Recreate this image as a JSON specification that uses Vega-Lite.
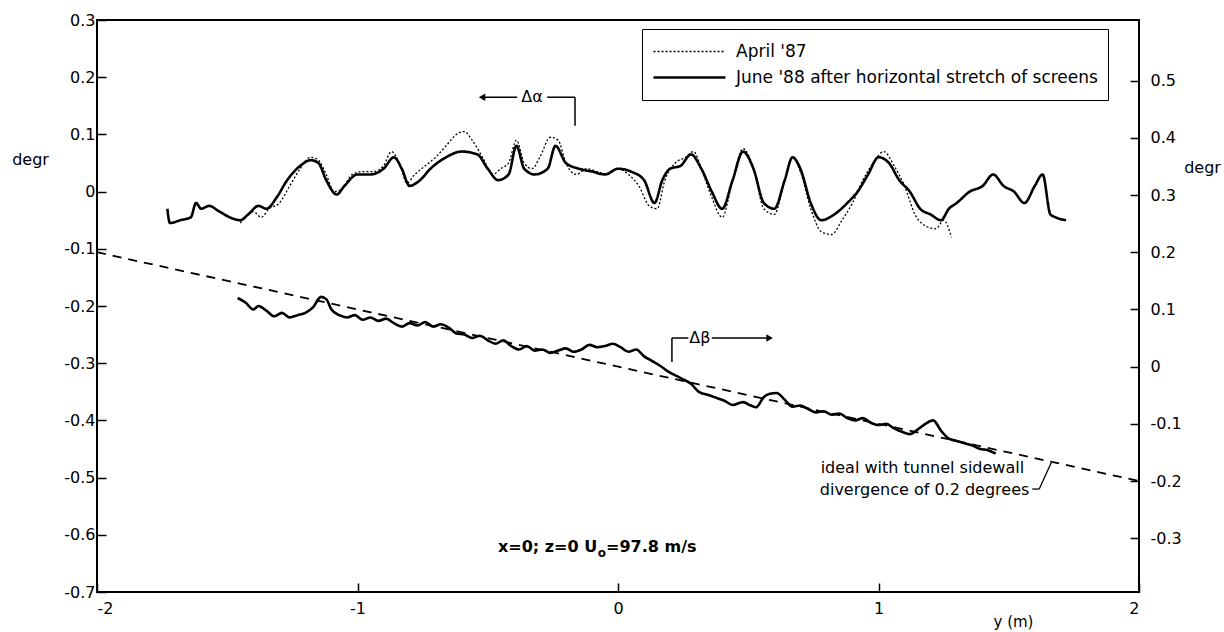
{
  "$schema": "https://vega.github.io/schema/vega-lite/v6.json",
  "width": 1042,
  "height": 572,
  "autosize": {"type": "none"},
  "padding": {"left": 97, "top": 20, "right": 85, "bottom": 40},
  "background": "white",
  "config": {
    "font": "DejaVu Sans",
    "view": {"stroke": "black", "strokeWidth": 2},
    "axis": {"labelColor": "black", "labelFontSize": 16, "tickColor": "black", "tickWidth": 1.5, "domain": false, "grid": false, "titleColor": "black", "titleFontWeight": "normal", "titleFontSize": 16},
    "legend": {"labelFontSize": 17, "labelColor": "black", "labelLimit": 0}
  },
  "datasets": {
    "alpha": [
      {"series": "A", "x": -1.45, "y": -0.055}, {"series": "A", "x": -1.42, "y": -0.04}, {"series": "A", "x": -1.4, "y": -0.035}, {"series": "A", "x": -1.37, "y": -0.045}, {"series": "A", "x": -1.34, "y": -0.03}, {"series": "A", "x": -1.3, "y": -0.02}, {"series": "A", "x": -1.26, "y": 0.01}, {"series": "A", "x": -1.22, "y": 0.04}, {"series": "A", "x": -1.18, "y": 0.06}, {"series": "A", "x": -1.15, "y": 0.055}, {"series": "A", "x": -1.12, "y": 0.03}, {"series": "A", "x": -1.09, "y": 0.0}, {"series": "A", "x": -1.06, "y": 0.005}, {"series": "A", "x": -1.02, "y": 0.03}, {"series": "A", "x": -0.98, "y": 0.035}, {"series": "A", "x": -0.94, "y": 0.035}, {"series": "A", "x": -0.9, "y": 0.045}, {"series": "A", "x": -0.87, "y": 0.07}, {"series": "A", "x": -0.84, "y": 0.05}, {"series": "A", "x": -0.81, "y": 0.015}, {"series": "A", "x": -0.78, "y": 0.03}, {"series": "A", "x": -0.74, "y": 0.045}, {"series": "A", "x": -0.7, "y": 0.06}, {"series": "A", "x": -0.66, "y": 0.08}, {"series": "A", "x": -0.62, "y": 0.1}, {"series": "A", "x": -0.59, "y": 0.105}, {"series": "A", "x": -0.56, "y": 0.09}, {"series": "A", "x": -0.52, "y": 0.06}, {"series": "A", "x": -0.48, "y": 0.03}, {"series": "A", "x": -0.45, "y": 0.04}, {"series": "A", "x": -0.42, "y": 0.05}, {"series": "A", "x": -0.39, "y": 0.09}, {"series": "A", "x": -0.36, "y": 0.05}, {"series": "A", "x": -0.33, "y": 0.04}, {"series": "A", "x": -0.3, "y": 0.06}, {"series": "A", "x": -0.26, "y": 0.095}, {"series": "A", "x": -0.23, "y": 0.09}, {"series": "A", "x": -0.2, "y": 0.05}, {"series": "A", "x": -0.16, "y": 0.03}, {"series": "A", "x": -0.12, "y": 0.04}, {"series": "A", "x": -0.08, "y": 0.035}, {"series": "A", "x": -0.04, "y": 0.03}, {"series": "A", "x": 0.0, "y": 0.04}, {"series": "A", "x": 0.04, "y": 0.03}, {"series": "A", "x": 0.08, "y": 0.01}, {"series": "A", "x": 0.12, "y": -0.025}, {"series": "A", "x": 0.15, "y": -0.03}, {"series": "A", "x": 0.18, "y": 0.02}, {"series": "A", "x": 0.22, "y": 0.05}, {"series": "A", "x": 0.26, "y": 0.06}, {"series": "A", "x": 0.29, "y": 0.07}, {"series": "A", "x": 0.32, "y": 0.04}, {"series": "A", "x": 0.36, "y": -0.01}, {"series": "A", "x": 0.4, "y": -0.045}, {"series": "A", "x": 0.44, "y": 0.02}, {"series": "A", "x": 0.48, "y": 0.075}, {"series": "A", "x": 0.52, "y": 0.04}, {"series": "A", "x": 0.56, "y": -0.03}, {"series": "A", "x": 0.6, "y": -0.04}, {"series": "A", "x": 0.64, "y": 0.02}, {"series": "A", "x": 0.67, "y": 0.06}, {"series": "A", "x": 0.7, "y": 0.035}, {"series": "A", "x": 0.74, "y": -0.03}, {"series": "A", "x": 0.78, "y": -0.07}, {"series": "A", "x": 0.82, "y": -0.075}, {"series": "A", "x": 0.86, "y": -0.05}, {"series": "A", "x": 0.9, "y": -0.02}, {"series": "A", "x": 0.94, "y": 0.02}, {"series": "A", "x": 0.98, "y": 0.05}, {"series": "A", "x": 1.02, "y": 0.07}, {"series": "A", "x": 1.06, "y": 0.045}, {"series": "A", "x": 1.1, "y": 0.01}, {"series": "A", "x": 1.14, "y": -0.04}, {"series": "A", "x": 1.18, "y": -0.06}, {"series": "A", "x": 1.22, "y": -0.065}, {"series": "A", "x": 1.25, "y": -0.05}, {"series": "A", "x": 1.28, "y": -0.08},
      {"series": "J", "x": -1.73, "y": -0.03}, {"series": "J", "x": -1.72, "y": -0.055}, {"series": "J", "x": -1.68, "y": -0.05}, {"series": "J", "x": -1.64, "y": -0.045}, {"series": "J", "x": -1.62, "y": -0.02}, {"series": "J", "x": -1.6, "y": -0.03}, {"series": "J", "x": -1.57, "y": -0.025}, {"series": "J", "x": -1.53, "y": -0.035}, {"series": "J", "x": -1.49, "y": -0.045}, {"series": "J", "x": -1.45, "y": -0.05}, {"series": "J", "x": -1.42, "y": -0.04}, {"series": "J", "x": -1.38, "y": -0.025}, {"series": "J", "x": -1.35, "y": -0.03}, {"series": "J", "x": -1.31, "y": -0.01}, {"series": "J", "x": -1.27, "y": 0.02}, {"series": "J", "x": -1.22, "y": 0.045}, {"series": "J", "x": -1.18, "y": 0.055}, {"series": "J", "x": -1.15, "y": 0.05}, {"series": "J", "x": -1.12, "y": 0.02}, {"series": "J", "x": -1.08, "y": -0.005}, {"series": "J", "x": -1.05, "y": 0.01}, {"series": "J", "x": -1.0, "y": 0.03}, {"series": "J", "x": -0.95, "y": 0.03}, {"series": "J", "x": -0.9, "y": 0.04}, {"series": "J", "x": -0.86, "y": 0.06}, {"series": "J", "x": -0.83, "y": 0.04}, {"series": "J", "x": -0.8, "y": 0.01}, {"series": "J", "x": -0.76, "y": 0.02}, {"series": "J", "x": -0.72, "y": 0.04}, {"series": "J", "x": -0.66, "y": 0.06}, {"series": "J", "x": -0.6, "y": 0.07}, {"series": "J", "x": -0.54, "y": 0.065}, {"series": "J", "x": -0.5, "y": 0.04}, {"series": "J", "x": -0.46, "y": 0.02}, {"series": "J", "x": -0.42, "y": 0.03}, {"series": "J", "x": -0.39, "y": 0.08}, {"series": "J", "x": -0.36, "y": 0.04}, {"series": "J", "x": -0.32, "y": 0.03}, {"series": "J", "x": -0.27, "y": 0.04}, {"series": "J", "x": -0.24, "y": 0.08}, {"series": "J", "x": -0.2, "y": 0.05}, {"series": "J", "x": -0.15, "y": 0.04}, {"series": "J", "x": -0.1, "y": 0.035}, {"series": "J", "x": -0.05, "y": 0.03}, {"series": "J", "x": 0.0, "y": 0.04}, {"series": "J", "x": 0.05, "y": 0.035}, {"series": "J", "x": 0.1, "y": 0.02}, {"series": "J", "x": 0.14, "y": -0.02}, {"series": "J", "x": 0.17, "y": 0.02}, {"series": "J", "x": 0.2, "y": 0.04}, {"series": "J", "x": 0.24, "y": 0.045}, {"series": "J", "x": 0.28, "y": 0.065}, {"series": "J", "x": 0.32, "y": 0.04}, {"series": "J", "x": 0.36, "y": 0.0}, {"series": "J", "x": 0.4, "y": -0.03}, {"series": "J", "x": 0.44, "y": 0.02}, {"series": "J", "x": 0.48, "y": 0.07}, {"series": "J", "x": 0.52, "y": 0.04}, {"series": "J", "x": 0.56, "y": -0.02}, {"series": "J", "x": 0.6, "y": -0.03}, {"series": "J", "x": 0.64, "y": 0.02}, {"series": "J", "x": 0.67, "y": 0.06}, {"series": "J", "x": 0.7, "y": 0.04}, {"series": "J", "x": 0.74, "y": -0.02}, {"series": "J", "x": 0.78, "y": -0.05}, {"series": "J", "x": 0.83, "y": -0.04}, {"series": "J", "x": 0.88, "y": -0.02}, {"series": "J", "x": 0.92, "y": 0.0}, {"series": "J", "x": 0.96, "y": 0.03}, {"series": "J", "x": 1.0, "y": 0.06}, {"series": "J", "x": 1.04, "y": 0.05}, {"series": "J", "x": 1.08, "y": 0.02}, {"series": "J", "x": 1.12, "y": 0.0}, {"series": "J", "x": 1.16, "y": -0.03}, {"series": "J", "x": 1.2, "y": -0.04}, {"series": "J", "x": 1.24, "y": -0.05}, {"series": "J", "x": 1.27, "y": -0.03}, {"series": "J", "x": 1.3, "y": -0.02}, {"series": "J", "x": 1.35, "y": 0.0}, {"series": "J", "x": 1.4, "y": 0.01}, {"series": "J", "x": 1.44, "y": 0.03}, {"series": "J", "x": 1.48, "y": 0.01}, {"series": "J", "x": 1.52, "y": 0.0}, {"series": "J", "x": 1.56, "y": -0.02}, {"series": "J", "x": 1.6, "y": 0.01}, {"series": "J", "x": 1.63, "y": 0.03}, {"series": "J", "x": 1.66, "y": -0.04}, {"series": "J", "x": 1.68, "y": -0.045}, {"series": "J", "x": 1.72, "y": -0.05}
    ],
    "beta": [
      {"x": -1.46, "r": 0.12}, {"x": -1.43, "r": 0.112}, {"x": -1.4, "r": 0.1}, {"x": -1.38, "r": 0.106}, {"x": -1.35, "r": 0.098}, {"x": -1.32, "r": 0.088}, {"x": -1.29, "r": 0.094}, {"x": -1.26, "r": 0.086}, {"x": -1.23, "r": 0.09}, {"x": -1.2, "r": 0.094}, {"x": -1.17, "r": 0.104}, {"x": -1.14, "r": 0.122}, {"x": -1.12, "r": 0.118}, {"x": -1.1, "r": 0.1}, {"x": -1.07, "r": 0.09}, {"x": -1.04, "r": 0.086}, {"x": -1.01, "r": 0.09}, {"x": -0.98, "r": 0.082}, {"x": -0.95, "r": 0.086}, {"x": -0.92, "r": 0.08}, {"x": -0.89, "r": 0.084}, {"x": -0.86, "r": 0.076}, {"x": -0.83, "r": 0.07}, {"x": -0.8, "r": 0.076}, {"x": -0.77, "r": 0.072}, {"x": -0.74, "r": 0.078}, {"x": -0.71, "r": 0.07}, {"x": -0.68, "r": 0.074}, {"x": -0.65, "r": 0.068}, {"x": -0.62, "r": 0.058}, {"x": -0.59, "r": 0.056}, {"x": -0.56, "r": 0.05}, {"x": -0.53, "r": 0.054}, {"x": -0.5, "r": 0.046}, {"x": -0.47, "r": 0.04}, {"x": -0.44, "r": 0.046}, {"x": -0.41, "r": 0.036}, {"x": -0.38, "r": 0.03}, {"x": -0.35, "r": 0.036}, {"x": -0.32, "r": 0.028}, {"x": -0.29, "r": 0.03}, {"x": -0.26, "r": 0.024}, {"x": -0.23, "r": 0.028}, {"x": -0.2, "r": 0.032}, {"x": -0.17, "r": 0.026}, {"x": -0.14, "r": 0.03}, {"x": -0.11, "r": 0.038}, {"x": -0.08, "r": 0.034}, {"x": -0.05, "r": 0.036}, {"x": -0.02, "r": 0.04}, {"x": 0.01, "r": 0.034}, {"x": 0.04, "r": 0.026}, {"x": 0.07, "r": 0.03}, {"x": 0.1, "r": 0.018}, {"x": 0.13, "r": 0.01}, {"x": 0.16, "r": 0.002}, {"x": 0.19, "r": -0.008}, {"x": 0.24, "r": -0.02}, {"x": 0.28, "r": -0.03}, {"x": 0.31, "r": -0.044}, {"x": 0.35, "r": -0.05}, {"x": 0.38, "r": -0.055}, {"x": 0.41, "r": -0.06}, {"x": 0.44, "r": -0.067}, {"x": 0.48, "r": -0.062}, {"x": 0.51, "r": -0.068}, {"x": 0.53, "r": -0.071}, {"x": 0.56, "r": -0.053}, {"x": 0.58, "r": -0.048}, {"x": 0.61, "r": -0.046}, {"x": 0.64, "r": -0.058}, {"x": 0.67, "r": -0.07}, {"x": 0.7, "r": -0.068}, {"x": 0.73, "r": -0.074}, {"x": 0.76, "r": -0.08}, {"x": 0.79, "r": -0.078}, {"x": 0.82, "r": -0.084}, {"x": 0.85, "r": -0.082}, {"x": 0.88, "r": -0.09}, {"x": 0.91, "r": -0.094}, {"x": 0.94, "r": -0.09}, {"x": 0.97, "r": -0.098}, {"x": 1.0, "r": -0.102}, {"x": 1.03, "r": -0.1}, {"x": 1.06, "r": -0.108}, {"x": 1.09, "r": -0.114}, {"x": 1.12, "r": -0.118}, {"x": 1.15, "r": -0.11}, {"x": 1.18, "r": -0.1}, {"x": 1.21, "r": -0.094}, {"x": 1.24, "r": -0.112}, {"x": 1.27, "r": -0.126}, {"x": 1.3, "r": -0.13}, {"x": 1.33, "r": -0.134}, {"x": 1.36, "r": -0.138}, {"x": 1.39, "r": -0.144}, {"x": 1.42, "r": -0.146}, {"x": 1.45, "r": -0.152}
    ],
    "ideal": [{"x": -2, "r": 0.2}, {"x": 2, "r": -0.2}],
    "alphaArrow": [
      {"x": -0.515, "x2": -0.387, "y": 0.165, "y2": 0.165},
      {"x": -0.272, "x2": -0.165, "y": 0.165, "y2": 0.165},
      {"x": -0.165, "x2": -0.165, "y": 0.165, "y2": 0.115}
    ],
    "betaArrow": [
      {"x": 0.207, "x2": 0.207, "r": 0.008, "r2": 0.05},
      {"x": 0.207, "x2": 0.27, "r": 0.05, "r2": 0.05},
      {"x": 0.36, "x2": 0.575, "r": 0.05, "r2": 0.05}
    ],
    "leader": [
      {"x": 1.59, "x2": 1.617, "r": -0.214, "r2": -0.214},
      {"x": 1.617, "x2": 1.663, "r": -0.214, "r2": -0.168}
    ],
    "idealText": [
      {"x": 1.559, "r": -0.177, "label": "ideal with tunnel sidewall"},
      {"x": 1.579, "r": -0.216, "label": "divergence of 0.2 degrees"}
    ]
  },
  "layer": [
    {
      "layer": [
        {
          "data": {"name": "alpha"},
          "mark": {"type": "line", "color": "black", "strokeJoin": "round", "interpolate": "monotone"},
          "encoding": {
            "x": {"field": "x", "type": "quantitative", "scale": {"domain": [-2, 2], "nice": false, "zero": false},
              "axis": {"values": [-2, -1, 0, 1, 2], "labelExpr": "datum.value < 0 ? '-' + format(abs(datum.value), 'd') : format(datum.value, 'd')", "tickSize": -9, "labelPadding": 17, "title": "y (m)", "titleFontSize": 15, "titleX": 916, "titleY": 29, "titleBaseline": "middle", "titleAlign": "center"}},
            "y": {"field": "y", "type": "quantitative", "scale": {"domain": [-0.7, 0.3], "nice": false, "zero": false},
              "axis": {"values": [-0.7, -0.6, -0.5, -0.4, -0.3, -0.2, -0.1, 0, 0.1, 0.2, 0.3], "labelExpr": "abs(datum.value) < 1e-9 ? '0' : (datum.value < 0 ? '-' : '') + format(abs(datum.value), '.1f')", "tickSize": -9, "labelPadding": 11, "title": "degr", "titleAngle": 0, "titleX": -67, "titleY": 139, "titleAlign": "center", "titleBaseline": "middle"}},
            "strokeDash": {"field": "series", "type": "nominal", "scale": {"domain": ["A", "J"], "range": [[2, 2], [1, 0]]},
              "legend": {"title": null, "orient": "none", "legendX": 545, "legendY": 9, "strokeColor": "black", "fillColor": "white", "padding": 10, "symbolType": "stroke", "symbolSize": 5184, "symbolStrokeColor": "black", "clipHeight": 25, "rowPadding": 1, "labelOffset": 9,
                "labelExpr": "datum.label == 'A' ? \"April '87\" : \"June '88 after horizontal stretch of screens\""}},
            "strokeWidth": {"field": "series", "type": "ordinal", "scale": {"domain": ["A", "J"], "range": [1.3, 2.6]},
              "legend": {"title": null, "orient": "none", "legendX": 545, "legendY": 9, "strokeColor": "black", "fillColor": "white", "padding": 10, "symbolType": "stroke", "symbolSize": 5184, "symbolStrokeColor": "black", "clipHeight": 25, "rowPadding": 1, "labelOffset": 9,
                "labelExpr": "datum.label == 'A' ? \"April '87\" : \"June '88 after horizontal stretch of screens\""}}
          }
        },
        {
          "data": {"name": "alphaArrow"},
          "mark": {"type": "rule", "color": "black", "strokeWidth": 1.5},
          "encoding": {
            "x": {"field": "x", "type": "quantitative"},
            "x2": {"field": "x2"},
            "y": {"field": "y", "type": "quantitative"},
            "y2": {"field": "y2"}
          }
        },
        {
          "data": {"values": [{"x": -0.522, "y": 0.165}]},
          "mark": {"type": "point", "shape": "triangle-left", "filled": true, "color": "black", "size": 55, "opacity": 1},
          "encoding": {"x": {"field": "x", "type": "quantitative"}, "y": {"field": "y", "type": "quantitative"}}
        },
        {
          "data": {"values": [{"x": -0.33, "y": 0.165, "label": "Δα"}]},
          "mark": {"type": "text", "fontSize": 16, "color": "black", "baseline": "middle", "align": "center"},
          "encoding": {"x": {"field": "x", "type": "quantitative"}, "y": {"field": "y", "type": "quantitative"}, "text": {"field": "label"}}
        },
        {
          "data": {"values": [{"x": -0.08, "y": -0.621, "label": "x=0; z=0  U"}]},
          "mark": {"type": "text", "fontSize": 16, "fontWeight": "bold", "color": "black", "baseline": "middle", "align": "right"},
          "encoding": {"x": {"field": "x", "type": "quantitative"}, "y": {"field": "y", "type": "quantitative"}, "text": {"field": "label"}}
        },
        {
          "data": {"values": [{"x": -0.078, "y": -0.621, "label": "o"}]},
          "mark": {"type": "text", "fontSize": 12, "fontWeight": "bold", "color": "black", "baseline": "middle", "align": "left", "dy": 6},
          "encoding": {"x": {"field": "x", "type": "quantitative"}, "y": {"field": "y", "type": "quantitative"}, "text": {"field": "label"}}
        },
        {
          "data": {"values": [{"x": -0.046, "y": -0.621, "label": "=97.8 m/s"}]},
          "mark": {"type": "text", "fontSize": 16, "fontWeight": "bold", "color": "black", "baseline": "middle", "align": "left"},
          "encoding": {"x": {"field": "x", "type": "quantitative"}, "y": {"field": "y", "type": "quantitative"}, "text": {"field": "label"}}
        }
      ]
    },
    {
      "layer": [
        {
          "data": {"name": "ideal"},
          "mark": {"type": "line", "color": "black", "strokeWidth": 1.8, "strokeDash": [9, 7]},
          "encoding": {
            "x": {"field": "x", "type": "quantitative", "scale": {"domain": [-2, 2], "nice": false, "zero": false},
              "axis": {"values": [-2, -1, 0, 1, 2], "labelExpr": "datum.value < 0 ? '-' + format(abs(datum.value), 'd') : format(datum.value, 'd')", "tickSize": -9, "labelPadding": 17, "title": "y (m)", "titleFontSize": 15, "titleX": 916, "titleY": 29, "titleBaseline": "middle", "titleAlign": "center"}},
            "y": {"field": "r", "type": "quantitative", "scale": {"domain": [-0.394, 0.606], "nice": false, "zero": false},
              "axis": {"orient": "right", "values": [-0.3, -0.2, -0.1, 0, 0.1, 0.2, 0.3, 0.4, 0.5], "labelExpr": "abs(datum.value) < 1e-9 ? '0' : (datum.value < 0 ? '-' : '') + format(abs(datum.value), '.1f')", "tickSize": -9, "labelPadding": 20, "title": "degr", "titleAngle": 0, "titleX": 63, "titleY": 147, "titleAlign": "center", "titleBaseline": "middle"}}
          }
        },
        {
          "data": {"name": "beta"},
          "mark": {"type": "line", "color": "black", "strokeWidth": 2.6, "strokeJoin": "round", "interpolate": "monotone"},
          "encoding": {
            "x": {"field": "x", "type": "quantitative"},
            "y": {"field": "r", "type": "quantitative"}
          }
        },
        {
          "data": {"name": "betaArrow"},
          "mark": {"type": "rule", "color": "black", "strokeWidth": 1.5},
          "encoding": {
            "x": {"field": "x", "type": "quantitative"},
            "x2": {"field": "x2"},
            "y": {"field": "r", "type": "quantitative"},
            "y2": {"field": "r2"}
          }
        },
        {
          "data": {"values": [{"x": 0.582, "r": 0.05}]},
          "mark": {"type": "point", "shape": "triangle-right", "filled": true, "color": "black", "size": 55, "opacity": 1},
          "encoding": {"x": {"field": "x", "type": "quantitative"}, "y": {"field": "r", "type": "quantitative"}}
        },
        {
          "data": {"values": [{"x": 0.314, "r": 0.05, "label": "Δβ"}]},
          "mark": {"type": "text", "fontSize": 16, "color": "black", "baseline": "middle", "align": "center"},
          "encoding": {"x": {"field": "x", "type": "quantitative"}, "y": {"field": "r", "type": "quantitative"}, "text": {"field": "label"}}
        },
        {
          "data": {"name": "idealText"},
          "mark": {"type": "text", "fontSize": 16, "color": "black", "baseline": "middle", "align": "right"},
          "encoding": {"x": {"field": "x", "type": "quantitative"}, "y": {"field": "r", "type": "quantitative"}, "text": {"field": "label"}}
        },
        {
          "data": {"name": "leader"},
          "mark": {"type": "rule", "color": "black", "strokeWidth": 1.3},
          "encoding": {
            "x": {"field": "x", "type": "quantitative"},
            "x2": {"field": "x2"},
            "y": {"field": "r", "type": "quantitative"},
            "y2": {"field": "r2"}
          }
        }
      ]
    }
  ],
  "resolve": {"scale": {"y": "independent"}}
}
